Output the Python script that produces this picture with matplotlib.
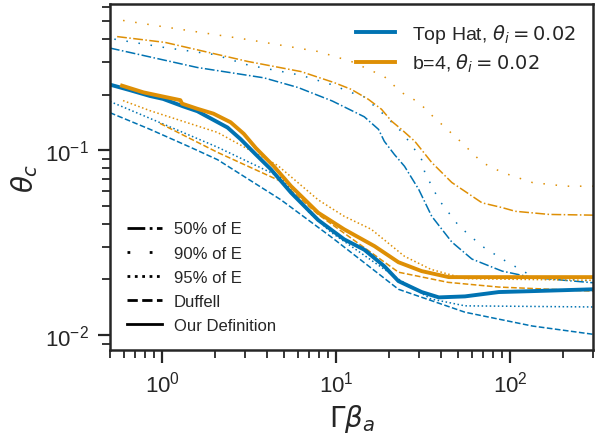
import matplotlib
matplotlib.use('Agg')
import matplotlib.pyplot as plt
from matplotlib.lines import Line2D

plt.rcParams['font.family'] = ['Liberation Sans', 'DejaVu Sans']
plt.rcParams['mathtext.fontset'] = 'dejavusans'

BLUE = '#0173b2'
ORANGE = '#de8f05'
DARK = '#262626'

# ---------------- data ----------------
# Top Hat, theta_i = 0.02
th_ours_x = [0.5, 0.65, 0.85, 1.01, 1.32, 1.59, 2.37, 2.82, 3.45, 4.21, 5.5, 7.87, 11.1, 14.5, 18.9, 22.8, 31, 38.9, 55, 86, 134, 300]
th_ours_y = [0.227, 0.212, 0.197, 0.190, 0.173, 0.163, 0.133, 0.115, 0.095, 0.079, 0.059, 0.042, 0.033, 0.029, 0.0236, 0.0196, 0.0171, 0.016, 0.0162, 0.0171, 0.0173, 0.0177]

th_50_x = [0.5, 0.65, 1.59, 3.84, 6.03, 9.5, 14.5, 17.5, 18.9, 21.6, 24.7, 29.8, 35.4, 46.2, 60.3, 90, 134, 300]
th_50_y = [0.358, 0.339, 0.281, 0.247, 0.219, 0.185, 0.152, 0.130, 0.112, 0.095, 0.082, 0.0615, 0.044, 0.0319, 0.0258, 0.0222, 0.0205, 0.0192]

th_90_x = [0.53, 1.04, 2.0, 3.1, 6.28, 9.7, 12.2, 14, 18.7, 24, 28.3, 31, 32.3, 38.9, 50.7, 68.9, 90, 134, 300]
th_90_y = [0.40, 0.36, 0.33, 0.29, 0.255, 0.225, 0.205, 0.20, 0.157, 0.125, 0.101, 0.089, 0.076, 0.054, 0.039, 0.0303, 0.0258, 0.0208, 0.0196]

th_95_x = [0.5, 0.85, 2.08, 4.81, 7.0, 9.35, 22.8, 35, 55, 300]
th_95_y = [0.184, 0.149, 0.104, 0.0714, 0.046, 0.036, 0.0201, 0.0157, 0.0144, 0.0142]

th_duf_x = [0.5, 0.85, 1.45, 2.08, 4.81, 9.35, 22.8, 55, 134, 300]
th_duf_y = [0.160, 0.130, 0.104, 0.089, 0.054, 0.034, 0.0177, 0.0133, 0.0112, 0.0101]

# b=4, theta_i = 0.02
b4_ours_x = [0.587, 0.78, 1.0, 1.27, 1.30, 1.59, 1.97, 2.47, 2.94, 3.45, 4.38, 5.5, 7.87, 11.1, 16.6, 22.8, 31, 44.4, 300]
b4_ours_y = [0.224, 0.206, 0.196, 0.187, 0.179, 0.168, 0.158, 0.142, 0.123, 0.103, 0.082, 0.064, 0.046, 0.0374, 0.0303, 0.0248, 0.0222, 0.0206, 0.0206]

b4_50_x = [0.55, 1.04, 3.1, 6.28, 9.7, 12.2, 15.3, 18.2, 20.8, 23.7, 28.3, 35.4, 46.2, 55, 68.9, 90, 107, 168, 300]
b4_50_y = [0.413, 0.384, 0.303, 0.267, 0.233, 0.214, 0.189, 0.167, 0.144, 0.130, 0.112, 0.086, 0.067, 0.060, 0.052, 0.049, 0.0468, 0.045, 0.0446]

b4_90_x = [0.595, 1.0, 3.1, 7.87, 12.2, 18.9, 23.7, 29.8, 35.4, 52.8, 68.9, 90, 134, 208, 300]
b4_90_y = [0.505, 0.468, 0.398, 0.343, 0.303, 0.251, 0.206, 0.182, 0.155, 0.110, 0.086, 0.076, 0.067, 0.064, 0.064]

b4_95_x = [0.595, 0.85, 2.08, 4.6, 7.87, 11.1, 15.9, 24.7, 35, 55, 300]
b4_95_y = [0.186, 0.164, 0.125, 0.083, 0.054, 0.044, 0.0374, 0.0267, 0.0227, 0.0202, 0.0198]

b4_duf_x = [0.97, 2.08, 4.81, 7.87, 22.8, 44, 86, 300]
b4_duf_y = [0.14, 0.0975, 0.068, 0.045, 0.0219, 0.0193, 0.0182, 0.0173]

series_labels = ['Top Hat, $\\theta_i = 0.02$', 'b=4, $\\theta_i = 0.02$']
style_labels = ['50% of E', '90% of E', '95% of E', 'Duffell', 'Our Definition']

# ---------------- styles ----------------
LS_50 = '-.'
LS_90 = (0, (1, 7))
LS_95 = ':'
LS_DUF = '--'

fig = plt.figure(figsize=(6.04, 4.35), dpi=100)
ax = fig.add_axes([0.182, 0.193, 0.800, 0.7955])

thin = 1.1
thick = 2.8

for col, sets in [
    (BLUE, [(th_50_x, th_50_y, LS_50), (th_90_x, th_90_y, LS_90), (th_95_x, th_95_y, LS_95),
            (th_duf_x, th_duf_y, LS_DUF)]),
    (ORANGE, [(b4_50_x, b4_50_y, LS_50), (b4_90_x, b4_90_y, LS_90), (b4_95_x, b4_95_y, LS_95),
              (b4_duf_x, b4_duf_y, LS_DUF)]),
]:
    for xs, ys, ls in sets:
        ax.plot(xs, ys, color=col, lw=thin, ls=ls)

h1, = ax.plot(th_ours_x, th_ours_y, color=BLUE, lw=thick, solid_joinstyle='round')
h2, = ax.plot(b4_ours_x, b4_ours_y, color=ORANGE, lw=thick, solid_joinstyle='round')

ax.set_xscale('log')
ax.set_yscale('log')
ax.set_xlim(0.5, 300)
ax.set_ylim(0.0083, 0.62)

for s in ax.spines.values():
    s.set_color(DARK)
    s.set_linewidth(1.8)
ax.tick_params(which='both', direction='out', colors=DARK, top=False, right=False)
ax.tick_params(which='major', length=9, width=1.6, labelsize=16, pad=6)
ax.tick_params(which='minor', length=6, width=1.3)

ax.set_xlabel('$\\Gamma\\beta_a$', fontsize=20, color=DARK)
ax.set_ylabel('$\\theta_c$', fontsize=20, color=DARK)

leg1 = ax.legend([h1, h2], series_labels, loc='upper right', frameon=False, fontsize=14,
                 handlelength=2.0, handletextpad=0.85, labelspacing=0.35, borderaxespad=0.5)
for t in leg1.get_texts():
    t.set_color(DARK)
ax.add_artist(leg1)

proxies = [Line2D([], [], color='black', lw=2, ls='-.'),
           Line2D([], [], color='black', lw=2, ls=(0, (1, 7))),
           Line2D([], [], color='black', lw=2, ls=':'),
           Line2D([], [], color='black', lw=2, ls='--'),
           Line2D([], [], color='black', lw=2, ls='-')]
leg2 = ax.legend(proxies, style_labels, loc='lower left', frameon=False, fontsize=12,
                 handlelength=2.1, handletextpad=0.7, labelspacing=0.55, borderaxespad=0.62)
for t in leg2.get_texts():
    t.set_color(DARK)

fig.savefig('out.png', dpi=100)
